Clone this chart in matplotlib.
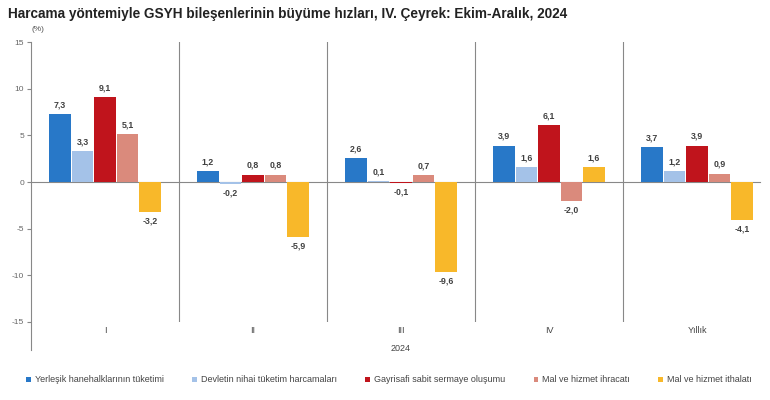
import matplotlib.pyplot as plt
from matplotlib.patches import Patch
import numpy as np

plt.rcParams['font.family'] = ['Liberation Sans', 'DejaVu Sans']
plt.rcParams['axes.unicode_minus'] = False

donemler = ['I', 'II', 'III', 'IV', 'Yıllık']
seriler = [
    'Yerleşik hanehalklarının tüketimi',
    'Devletin nihai tüketim harcamaları',
    'Gayrisafi sabit sermaye oluşumu',
    'Mal ve hizmet ihracatı',
    'Mal ve hizmet ithalatı',
]
hanehalki = [7.3, 1.2, 2.6, 3.9, 3.7]
devlet = [3.3, -0.2, 0.1, 1.6, 1.2]
yatirim = [9.1, 0.8, -0.1, 6.1, 3.9]
ihracat = [5.1, 0.8, 0.7, -2.0, 0.9]
ithalat = [-3.2, -5.9, -9.6, 1.6, -4.1]
degerler = [hanehalki, devlet, yatirim, ihracat, ithalat]

renkler = ['#2878c8', '#a4c2e8', '#c0141c', '#da8a7c', '#f8b82a']
GRI = '#888888'

fig = plt.figure(figsize=(7.7, 4.0), dpi=100)
ax = fig.add_axes([31 / 770, 1 - 322 / 400, 740 / 770, 280 / 400])

x = np.arange(len(donemler))
genislik = 0.152
for i, (ad, seri, renk) in enumerate(zip(seriler, degerler, renkler)):
    konum = x + (i - 2) * genislik
    ax.bar(konum, seri, width=genislik * 0.97, color=renk, label=ad, zorder=3)
    for xi, v in zip(konum, seri):
        etiket = f'{v:.1f}'.replace('.', ',')
        if v >= 0:
            ax.text(xi, v + 0.5, etiket, ha='center', va='bottom',
                    fontsize=6.3, fontweight='bold', color='#404040')
        else:
            ax.text(xi, v - 0.5, etiket, ha='center', va='top',
                    fontsize=6.3, fontweight='bold', color='#404040')

ax.set_xlim(-0.5, len(donemler) - 0.5)
ax.set_ylim(-15, 15)
ax.set_yticks(range(-15, 16, 5))
ax.tick_params(axis='y', labelsize=6, colors='#666666', length=3, color=GRI, pad=2)
ax.set_xticks(x)
ax.set_xticklabels(donemler)
ax.tick_params(axis='x', length=0, labelsize=6.5, labelcolor='#444444', pad=3)

for s in ['top', 'right', 'bottom']:
    ax.spines[s].set_visible(False)
ax.spines['left'].set_color(GRI)
ax.spines['left'].set_bounds(-18, 15)

ax.axhline(0, xmin=0, xmax=0.985, color=GRI, lw=0.8, zorder=2)
for xi in x[:-1] + 0.5:
    ax.plot([xi, xi], [-15, 15], color=GRI, lw=0.8, zorder=1)

ax.text(-0.5, 16.0, '(%)', ha='left', va='bottom', fontsize=6, color='#555555')
ax.text(2, -17.8, '2024', ha='center', va='center', fontsize=6.5, color='#444444')

fig.text(8 / 770, 1 - 14 / 400, 'Harcama yöntemiyle GSYH bileşenlerinin büyüme hızları, IV. Çeyrek: Ekim-Aralık, 2024',
         ha='left', va='center', fontsize=9.8, fontweight='bold', color='#222222')

tutamaklar = [Patch(facecolor=r) for r in renkler]
fig.legend(tutamaklar, seriler, loc='center', bbox_to_anchor=(0.505, 1 - 380 / 400), ncol=5,
           frameon=False, fontsize=6.5, handlelength=0.5, handleheight=0.5,
           handletextpad=0.4, columnspacing=3.2, labelcolor='#444444')

fig.savefig('out.png', dpi=100)
